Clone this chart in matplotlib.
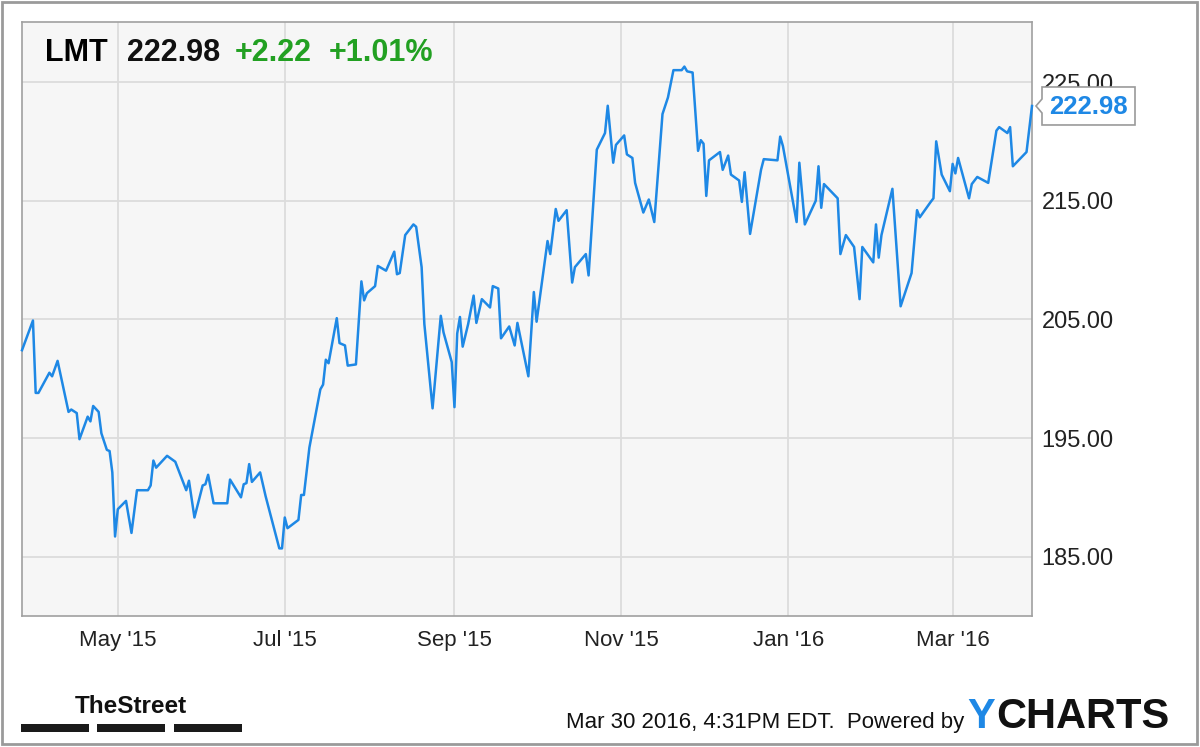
"""
LMT price chart, YCharts / TheStreet style (Mar 2015 - Mar 2016).
"""
import matplotlib
matplotlib.use("Agg")
import matplotlib.pyplot as plt
import matplotlib.dates as mdates
from matplotlib.patches import Rectangle, Polygon
from matplotlib.transforms import IdentityTransform
from matplotlib.ticker import FormatStrFormatter
from matplotlib.font_manager import FontProperties, findfont
import pandas as pd

# ---------- data ----------
dates = [
    "2015-03-27", "2015-03-31", "2015-04-01", "2015-04-02", "2015-04-06", "2015-04-07",
    "2015-04-09", "2015-04-13", "2015-04-14", "2015-04-16", "2015-04-17", "2015-04-20",
    "2015-04-21", "2015-04-22", "2015-04-24", "2015-04-25", "2015-04-27", "2015-04-28",
    "2015-04-29", "2015-04-30", "2015-05-01", "2015-05-04", "2015-05-06", "2015-05-08",
    "2015-05-12", "2015-05-13", "2015-05-14", "2015-05-15", "2015-05-19", "2015-05-22",
    "2015-05-26", "2015-05-27", "2015-05-29", "2015-06-01", "2015-06-02", "2015-06-03",
    "2015-06-05", "2015-06-10", "2015-06-11", "2015-06-15", "2015-06-16", "2015-06-17",
    "2015-06-18", "2015-06-19", "2015-06-22", "2015-06-24", "2015-06-29", "2015-06-30",
    "2015-07-01", "2015-07-02", "2015-07-06", "2015-07-07", "2015-07-08", "2015-07-10",
    "2015-07-14", "2015-07-15", "2015-07-16", "2015-07-17", "2015-07-20", "2015-07-21",
    "2015-07-23", "2015-07-24", "2015-07-27", "2015-07-29", "2015-07-30", "2015-07-31",
    "2015-08-03", "2015-08-04", "2015-08-07", "2015-08-10", "2015-08-11", "2015-08-12",
    "2015-08-14", "2015-08-17", "2015-08-18", "2015-08-20", "2015-08-21", "2015-08-24",
    "2015-08-27", "2015-08-28", "2015-08-31", "2015-09-01", "2015-09-02", "2015-09-03",
    "2015-09-04", "2015-09-06", "2015-09-08", "2015-09-09", "2015-09-11", "2015-09-14",
    "2015-09-15", "2015-09-17", "2015-09-18", "2015-09-21", "2015-09-23", "2015-09-24",
    "2015-09-28", "2015-09-30", "2015-10-01", "2015-10-05", "2015-10-06", "2015-10-08",
    "2015-10-09", "2015-10-12", "2015-10-14", "2015-10-15", "2015-10-19", "2015-10-20",
    "2015-10-23", "2015-10-26", "2015-10-27", "2015-10-29", "2015-10-30", "2015-11-02",
    "2015-11-03", "2015-11-05", "2015-11-06", "2015-11-09", "2015-11-11", "2015-11-13",
    "2015-11-16", "2015-11-18", "2015-11-20", "2015-11-23", "2015-11-24", "2015-11-25",
    "2015-11-27", "2015-11-29", "2015-11-30", "2015-12-01", "2015-12-02", "2015-12-03",
    "2015-12-07", "2015-12-08", "2015-12-10", "2015-12-11", "2015-12-14", "2015-12-15",
    "2015-12-16", "2015-12-18", "2015-12-22", "2015-12-23", "2015-12-28", "2015-12-29",
    "2015-12-30", "2016-01-04", "2016-01-05", "2016-01-07", "2016-01-11", "2016-01-12",
    "2016-01-13", "2016-01-14", "2016-01-19", "2016-01-20", "2016-01-22", "2016-01-25",
    "2016-01-27", "2016-01-28", "2016-02-01", "2016-02-02", "2016-02-03", "2016-02-04",
    "2016-02-08", "2016-02-11", "2016-02-15", "2016-02-17", "2016-02-18", "2016-02-22",
    "2016-02-23", "2016-02-24", "2016-02-26", "2016-02-29", "2016-03-01", "2016-03-02",
    "2016-03-03", "2016-03-07", "2016-03-08", "2016-03-10", "2016-03-14", "2016-03-17",
    "2016-03-18", "2016-03-21", "2016-03-22", "2016-03-23", "2016-03-28", "2016-03-30",
]
prices = [
    202.4, 204.9, 198.8, 198.8, 200.5, 200.2,
    201.5, 197.2, 197.4, 197.1, 194.9, 196.8,
    196.4, 197.7, 197.2, 195.4, 194.0, 193.9,
    192.1, 186.7, 189.0, 189.7, 187.0, 190.6,
    190.6, 191.0, 193.1, 192.5, 193.5, 193.0,
    190.6, 191.4, 188.3, 191.0, 191.1, 191.9,
    189.5, 189.5, 191.5, 190.0, 191.1, 191.2,
    192.8, 191.3, 192.1, 190.1, 185.7, 185.7,
    188.3, 187.4, 188.1, 190.2, 190.2, 194.2,
    199.1, 199.5, 201.6, 201.3, 205.1, 203.0,
    202.8, 201.1, 201.2, 208.2, 206.6, 207.2,
    207.8, 209.5, 209.1, 210.7, 208.8, 208.9,
    212.1, 213.0, 212.8, 209.4, 204.6, 197.5,
    205.3, 203.9, 201.4, 197.6, 203.8, 205.2,
    202.7, 204.6, 207.0, 204.7, 206.7, 206.0,
    207.8, 207.6, 203.4, 204.4, 202.8, 204.7,
    200.2, 207.3, 204.8, 211.6, 210.5, 214.3,
    213.3, 214.2, 208.1, 209.4, 210.5, 208.7,
    219.3, 220.7, 223.0, 218.2, 219.7, 220.5,
    218.9, 218.6, 216.5, 214.0, 215.1, 213.2,
    222.3, 223.7, 226.0, 226.0, 226.3, 225.9,
    225.8, 219.2, 220.1, 219.8, 215.4, 218.4,
    219.1, 217.6, 218.8, 217.2, 216.7, 214.9,
    217.4, 212.2, 217.6, 218.5, 218.4, 220.4,
    219.6, 213.2, 218.2, 213.0, 215.0, 217.9,
    214.4, 216.4, 215.2, 210.5, 212.1, 211.1,
    206.7, 211.1, 209.8, 213.0, 210.2, 212.1,
    216.0, 206.1, 208.9, 214.2, 213.6, 214.9,
    215.2, 220.0, 217.2, 215.8, 218.1, 217.3,
    218.6, 215.2, 216.4, 217.0, 216.5, 220.9,
    221.2, 220.7, 221.2, 217.9, 219.1, 222.98,
]
y_ticks = [185, 195, 205, 215, 225]
ticker = "LMT"
last_label = "222.98"
change_abs = "+2.22"
change_pct = "+1.01%"
stamp = "Mar 30 2016, 4:31PM EDT.  Powered by"

BLUE = "#1e88e5"
GREEN = "#22a022"

plt.rcParams["font.family"] = ["Liberation Sans", "DejaVu Sans"]

W, H = 1200, 747


def fx(px):
    return px / W


def fy(py):
    return 1 - py / H


dates = pd.to_datetime(dates)

fig = plt.figure(figsize=(W / 100, H / 100), dpi=100)
fig.patch.set_facecolor("white")
ax = fig.add_axes([fx(22), fy(616), fx(1032) - fx(22), fy(21.5) - fy(616)])

ax.set_facecolor("#f6f6f6")
for s in ax.spines.values():
    s.set_color("#a0a0a0")
    s.set_linewidth(1.2)

ax.plot(dates, prices, color=BLUE, lw=1.8, clip_on=False,
        solid_joinstyle="round", zorder=3)

ax.set_xlim(pd.Timestamp("2015-03-27"), pd.Timestamp("2016-03-30"))
ax.set_ylim(180.0, 230.1)
ax.set_yticks(y_ticks)
ax.yaxis.set_major_formatter(FormatStrFormatter("%.2f"))
ax.yaxis.tick_right()
ax.xaxis.set_major_locator(mdates.MonthLocator(bymonth=[1, 3, 5, 7, 9, 11]))
ax.xaxis.set_major_formatter(mdates.DateFormatter("%b '%y"))
ax.tick_params(axis="x", length=0, pad=10, labelsize=16, labelcolor="#222222")
ax.tick_params(axis="y", length=0, pad=7, labelsize=17, labelcolor="#222222")
ax.grid(True, color="#dcdcdc", lw=1.3)
ax.set_axisbelow(True)

# ---------- last-value callout ----------
px, py = ax.transData.transform((mdates.date2num(dates[-1]), prices[-1]))
tip, bl, br, hh, nh = px + 4, px + 10, px + 103, 19, 7
callout = Polygon([(tip, py), (bl, py + nh), (bl, py + hh), (br, py + hh),
                   (br, py - hh), (bl, py - hh), (bl, py - nh)],
                  closed=True, transform=IdentityTransform(), clip_on=False,
                  fc="white", ec="#9a9a9a", lw=1.2, zorder=10)
ax.add_patch(callout)
ax.annotate(last_label, xy=(dates[-1], prices[-1]), xytext=(56.5, -1),
            textcoords="offset pixels", ha="center", va="center",
            color=BLUE, fontsize=18.5, fontweight="bold",
            annotation_clip=False, zorder=11)

# ---------- header ----------
base = fy(61)
fig.text(fx(45), base, ticker, fontsize=22, fontweight="bold", color="black", va="baseline")
fig.text(fx(126.5), base, last_label, fontsize=22, fontweight="bold", color="#111111", va="baseline")
fig.text(fx(235), base, change_abs, fontsize=22, fontweight="bold", color=GREEN, va="baseline")
fig.text(fx(329), base, change_pct, fontsize=22, fontweight="bold", color=GREEN, va="baseline")

# ---------- footer ----------
fig.text(fx(566), fy(728), stamp, fontsize=16, color="#111111", va="baseline")
fig.text(fx(967), fy(728), "Y", fontsize=30, fontweight="bold", color=BLUE, va="baseline")
fig.text(fx(996), fy(728), "CHARTS", fontsize=30, fontweight="bold", color="#111111", va="baseline")

try:
    findfont(FontProperties(family="Liberation Sans Narrow", weight="bold"),
             fallback_to_default=False)
    street_family, street_size = ["Liberation Sans Narrow", "Liberation Sans"], 22
except ValueError:
    street_family, street_size = ["Liberation Sans", "DejaVu Sans"], 17.5
fig.text(fx(131), fy(713), "TheStreet", family=street_family, fontsize=street_size,
         fontweight="bold", color="#111111", ha="center", va="baseline")
for x0, x1 in [(20.7, 89.3), (97.3, 165), (174, 241.7)]:
    fig.add_artist(Rectangle((fx(x0), fy(732.3)), fx(x1) - fx(x0), fy(724.3) - fy(732.3),
                             transform=fig.transFigure, fc="#1a1a1a", ec="none"))

# outer frame
fig.add_artist(Rectangle((fx(1.5), fy(744)), fx(1197) - fx(1.5), fy(1.5) - fy(744),
                         transform=fig.transFigure, fill=False, ec="#9a9a9a", lw=2))

fig.savefig("out.png", dpi=100, facecolor="white")
